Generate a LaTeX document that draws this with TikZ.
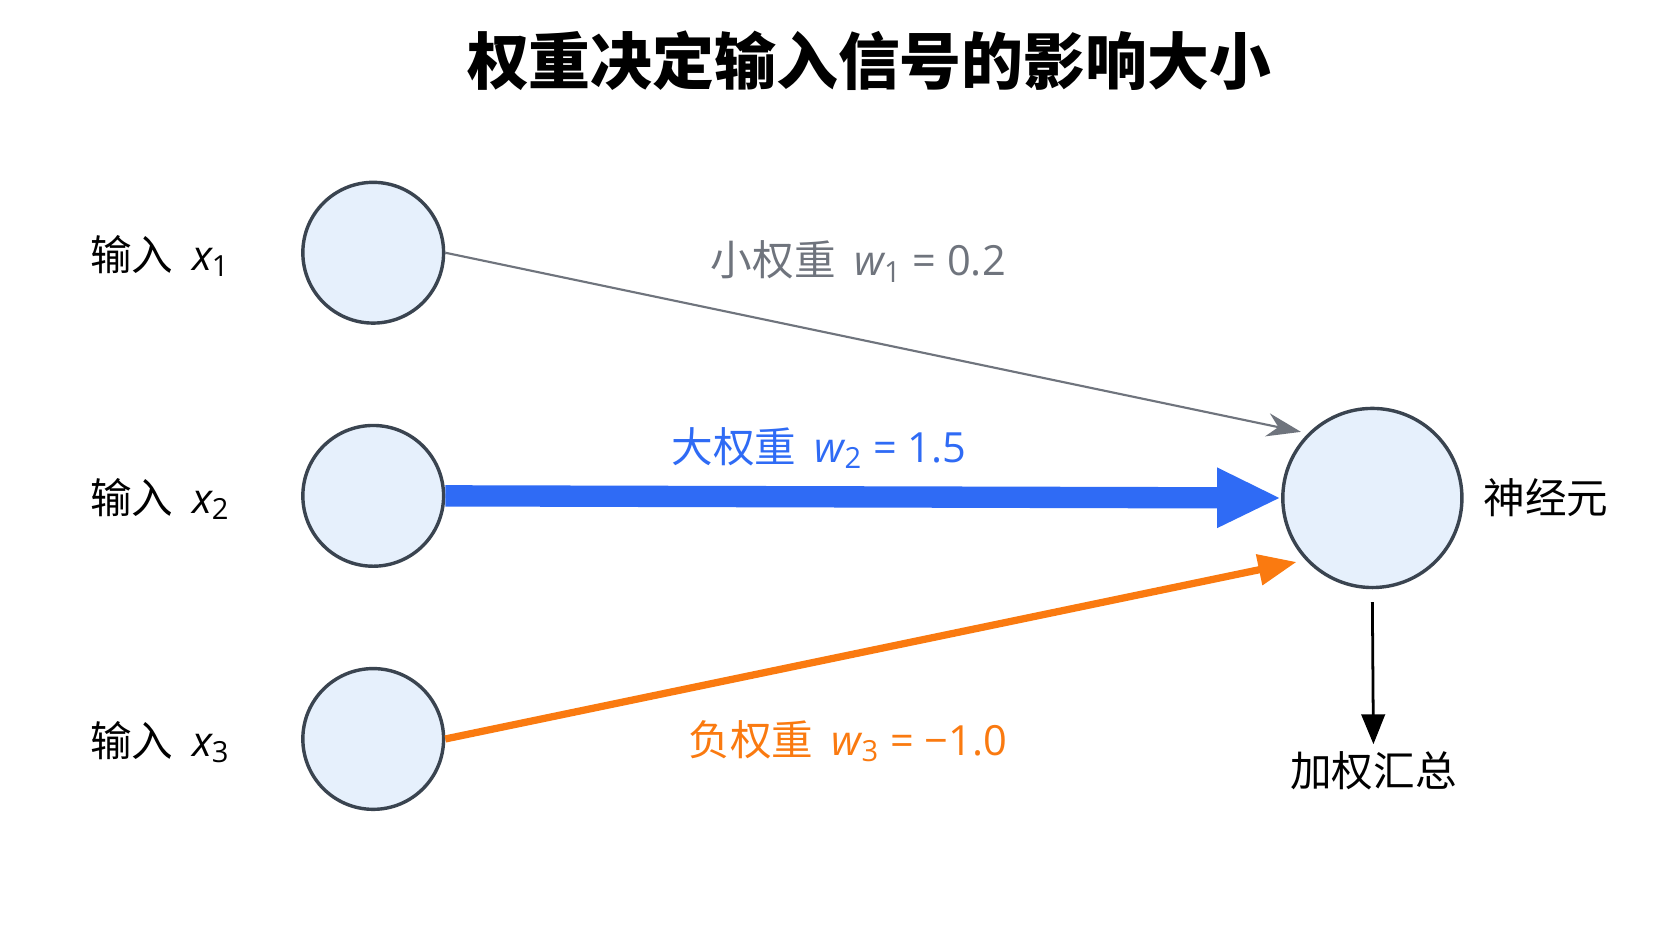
\documentclass[tikz,border=0pt]{standalone}
\usepackage{fontspec}
\setmainfont{Noto Sans CJK SC}
\newfontfamily\lat{Open Sans}
\usetikzlibrary{arrows.meta}
\definecolor{nfill}{HTML}{E6F0FC}
\definecolor{nline}{HTML}{3A4450}
\definecolor{cgray}{HTML}{6F747D}
\definecolor{cblue}{HTML}{2F6BF5}
\definecolor{corange}{HTML}{FA7A10}
\newcommand{\vv}[2]{{\lat\itshape #1}\textsubscript{\lat #2}}
\begin{document}
\begin{tikzpicture}[x=0.5pt,y=-0.5pt,
  neur/.style={circle,draw=nline,line width=1.6pt,fill=nfill,inner sep=0pt},
  lab/.style={font=\fontsize{19.5}{22}\selectfont},
  wl/.style={font=\fontsize{19.5}{22}\selectfont}]
\fill[white] (0,0) rectangle (1568,882);
\useasboundingbox (0,0) rectangle (1568,882);
\node[font=\fontsize{29}{32}\selectfont\bfseries] (title) at (815,57) {权重决定输入信号的影响大小};
\node[neur,minimum size=66pt] (i1) at (350,237) {};
\node[neur,minimum size=66pt] (i2) at (350,465) {};
\node[neur,minimum size=66pt] (i3) at (350,693) {};
\node[neur,minimum size=84pt] (n) at (1287,467) {};
\node[lab] (l1) at (150,240) {输入\ \ \vv{x}{1}};
\node[lab] (l2) at (150,468) {输入\ \ \vv{x}{2}};
\node[lab] (l3) at (150,696) {输入\ \ \vv{x}{3}};
\node[lab] (nl) at (1450,467) {神经元};
\coordinate (t1) at (1220,405);
\coordinate (t3) at (1216,527);
\draw[cgray,line width=1pt,-{Stealth[length=16pt,width=11pt]}] (i1.east) -- (t1);
\draw[cblue,line width=10pt,-{Triangle[length=30pt,width=26pt]}] (i2.east) -- (n.west);
\draw[corange,line width=3.4pt,-{Triangle[length=18pt,width=14pt]}] (i3.east) -- (t3);
\node[wl,text=cgray] (w1) at (805,245) {小权重\ \ \vv{w}{1}{\lat\ = 0.2}};
\node[wl,text=cblue] (w2) at (768,420) {大权重\ \ \vv{w}{2}{\lat\ = 1.5}};
\node[wl,text=corange] (w3) at (795,695) {负权重\ \ \vv{w}{3}{\lat\ = −1.0}};
\node[lab] (sum) at (1288,723) {加权汇总};
\draw[black,line width=1.3pt,-{Triangle[length=14pt,width=11pt]}] (n.south)++(0,12) coordinate (d0) (d0) -- (sum.north);
\end{tikzpicture}
\end{document}
